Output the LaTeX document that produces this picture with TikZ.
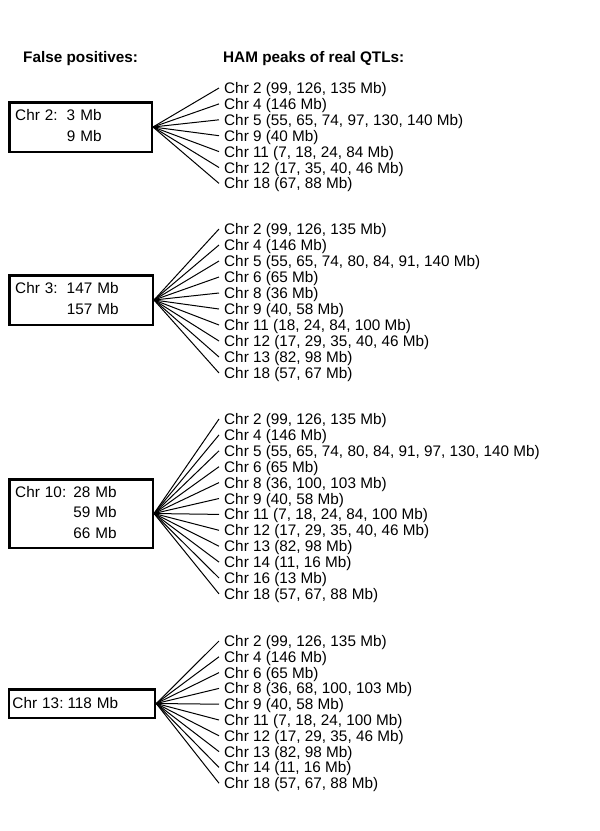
\documentclass[tikz,border=0pt]{standalone}
\usepackage{fontspec}
\setmainfont{Liberation Sans}

\begin{document}
\begin{tikzpicture}[x=1pt, y=-1pt,
		fpbox/.style={draw, line width=2.5pt, inner xsep=6pt, align=left, font=\fontsize{15.3}{20.5}\selectfont},
		peak/.style={anchor=west, inner xsep=5pt, inner ysep=0pt, text height=11pt, text depth=0pt, font=\fontsize{15.3}{16}\selectfont},
		head/.style={anchor=west, inner sep=0pt, text height=11pt, text depth=0pt, font=\bfseries\fontsize{15.3}{16}\selectfont},
		fan/.style={line width=1pt}]
			\useasboundingbox (0,0) rectangle (600,831);

			\node[head] (fphead)  at (23 ,  57) {False positives:};
			\node[head] (hamhead) at (223,  57) {HAM peaks of real QTLs:};

			% false positive boxes
			\node[fpbox, text width=130.5pt, minimum height=49.5pt] (fp2)  at (80.5, 127)
				{\begin{tabular}{@{}l@{\hspace{9pt}}l@{}}Chr 2: & 3 Mb\\ & 9 Mb\end{tabular}};
			\node[fpbox, text width=131.5pt, minimum height=49.5pt] (fp3)  at (81  , 300)
				{\begin{tabular}{@{}l@{\hspace{9pt}}l@{}}Chr 3: & 147 Mb\\ & 157 Mb\end{tabular}};
			\node[fpbox, text width=131.5pt, minimum height=68.5pt] (fp10) at (81  , 513.5)
				{\begin{tabular}{@{}l@{\hspace{7pt}}l@{}}Chr 10: & 28 Mb\\ & 59 Mb\\ & 66 Mb\end{tabular}};
			\node[fpbox, text width=139pt, minimum height=28.5pt, inner xsep=3.5pt] (fp13) at (82, 703.5)
				{Chr 13:\hspace{4pt}118 Mb};

			% real QTL peaks, one fan per box
			\def\peaksA {{Chr 2 (99, 126, 135 Mb)}, {Chr 4 (146 Mb)}, {Chr 5 (55, 65, 74, 97, 130, 140 Mb)},
				{Chr 9 (40 Mb)}, {Chr 11 (7, 18, 24, 84 Mb)}, {Chr 12 (17, 35, 40, 46 Mb)}, {Chr 18 (67, 88 Mb)}}
			\foreach \txt [count=\i] in \peaksA
			{	\node[peak] (a\i) at (219, {88+15.9*(\i-1)}) {\txt};
				\draw[fan] (fp2.east) -- (a\i.west);
			}
			\def\peaksB {{Chr 2 (99, 126, 135 Mb)}, {Chr 4 (146 Mb)}, {Chr 5 (55, 65, 74, 80, 84, 91, 140 Mb)},
				{Chr 6 (65 Mb)}, {Chr 8 (36 Mb)}, {Chr 9 (40, 58 Mb)}, {Chr 11 (18, 24, 84, 100 Mb)},
				{Chr 12 (17, 29, 35, 40, 46 Mb)}, {Chr 13 (82, 98 Mb)}, {Chr 18 (57, 67 Mb)}}
			\foreach \txt [count=\i] in \peaksB
			{	\node[peak] (b\i) at (219, {229+16*(\i-1)}) {\txt};
				\draw[fan] (fp3.east) -- (b\i.west);
			}
			\def\peaksC {{Chr 2 (99, 126, 135 Mb)}, {Chr 4 (146 Mb)}, {Chr 5 (55, 65, 74, 80, 84, 91, 97, 130, 140 Mb)},
				{Chr 6 (65 Mb)}, {Chr 8 (36, 100, 103 Mb)}, {Chr 9 (40, 58 Mb)}, {Chr 11 (7, 18, 24, 84, 100 Mb)},
				{Chr 12 (17, 29, 35, 40, 46 Mb)}, {Chr 13 (82, 98 Mb)}, {Chr 14 (11, 16 Mb)}, {Chr 16 (13 Mb)},
				{Chr 18 (57, 67, 88 Mb)}}
			\foreach \txt [count=\i] in \peaksC
			{	\node[peak] (c\i) at (219, {419+15.9*(\i-1)}) {\txt};
				\draw[fan] (fp10.east) -- (c\i.west);
			}
			\def\peaksD {{Chr 2 (99, 126, 135 Mb)}, {Chr 4 (146 Mb)}, {Chr 6 (65 Mb)}, {Chr 8 (36, 68, 100, 103 Mb)},
				{Chr 9 (40, 58 Mb)}, {Chr 11 (7, 18, 24, 100 Mb)}, {Chr 12 (17, 29, 35, 46 Mb)},
				{Chr 13 (82, 98 Mb)}, {Chr 14 (11, 16 Mb)}, {Chr 18 (57, 67, 88 Mb)}}
			\foreach \txt [count=\i] in \peaksD
			{	\node[peak] (d\i) at (219, {641+15.8*(\i-1)}) {\txt};
				\draw[fan] (fp13.east) -- (d\i.west);
			}
		\end{tikzpicture}
\end{document}
